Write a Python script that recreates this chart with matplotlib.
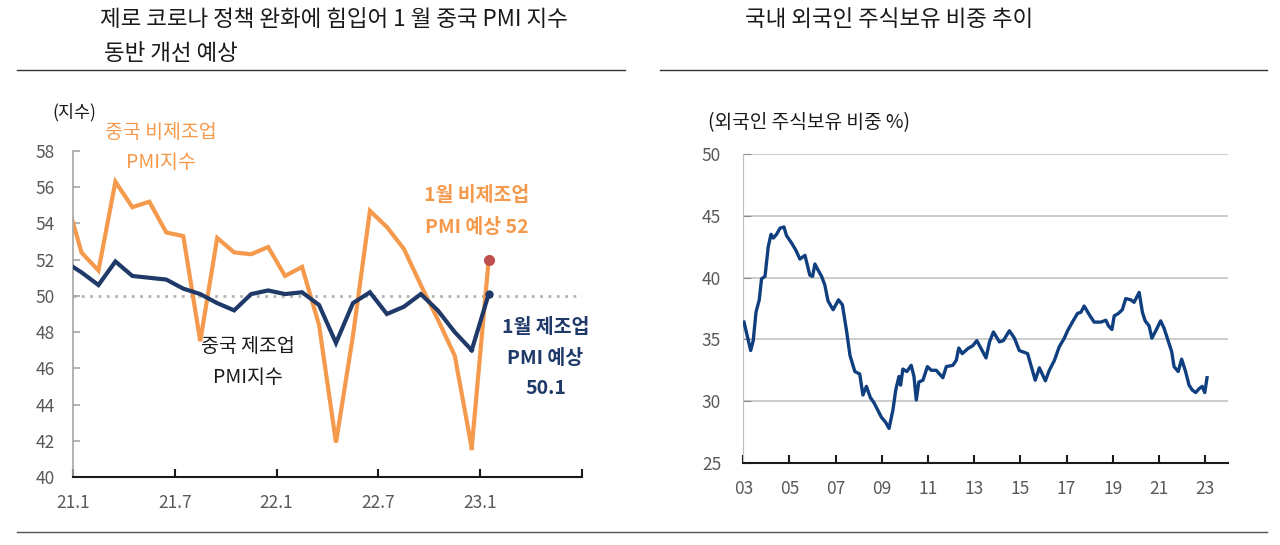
import numpy as np
import matplotlib
matplotlib.use('Agg')
import matplotlib.pyplot as plt
from matplotlib.lines import Line2D

plt.rcParams['font.family'] = ['Noto Sans CJK KR', 'DejaVu Sans']

# 중국 PMI (20.12 ~ 22.12), 마지막은 1월 예상치
mfg_pmi = [51.9, 51.3, 50.6, 51.9, 51.1, 51.0, 50.9, 50.4, 50.1, 49.6, 49.2, 50.1, 50.3,
           50.1, 50.2, 49.5, 47.4, 49.6, 50.2, 49.0, 49.4, 50.1, 49.2, 48.0, 47.0]
nonmfg_pmi = [55.7, 52.4, 51.4, 56.3, 54.9, 55.2, 53.5, 53.3, 47.5, 53.2, 52.4, 52.3, 52.7,
              51.1, 51.6, 48.4, 41.9, 47.8, 54.7, 53.8, 52.6, 50.6, 48.7, 46.7, 41.6]
mfg_fcst = 50.1
nonmfg_fcst = 52.0
pmi_ticks = [0, 6, 12, 18, 24, 30]
pmi_ticklabels = ['21.1', '21.7', '22.1', '22.7', '23.1', '']

# 외국인 주식보유 비중 (%)
own_year = [2003.03, 2003.32, 2003.43, 2003.55, 2003.69, 2003.79, 2003.94, 2004.08, 2004.20, 2004.30,
            2004.44, 2004.59, 2004.76, 2004.87, 2005.09, 2005.28, 2005.45, 2005.67, 2005.88, 2006.00,
            2006.10, 2006.24, 2006.39, 2006.53, 2006.67, 2006.89, 2007.12, 2007.29, 2007.47, 2007.62,
            2007.83, 2008.04, 2008.18, 2008.33, 2008.50, 2008.65, 2008.79, 2008.98, 2009.16, 2009.31,
            2009.48, 2009.60, 2009.74, 2009.81, 2009.91, 2010.08, 2010.27, 2010.39, 2010.49, 2010.60,
            2010.78, 2010.97, 2011.14, 2011.35, 2011.64, 2011.79, 2012.07, 2012.22, 2012.33, 2012.48,
            2012.72, 2012.94, 2013.11, 2013.30, 2013.51, 2013.66, 2013.83, 2014.09, 2014.26, 2014.52,
            2014.74, 2014.95, 2015.31, 2015.64, 2015.82, 2016.08, 2016.25, 2016.47, 2016.68, 2016.90,
            2017.04, 2017.25, 2017.47, 2017.62, 2017.76, 2017.98, 2018.19, 2018.48, 2018.70, 2018.81,
            2018.96, 2019.06, 2019.24, 2019.41, 2019.56, 2019.78, 2019.92, 2020.14, 2020.28, 2020.40,
            2020.57, 2020.69, 2020.86, 2021.07, 2021.22, 2021.36, 2021.55, 2021.65, 2021.83, 2021.98,
            2022.15, 2022.30, 2022.44, 2022.59, 2022.73, 2022.87, 2022.98, 2023.08]
own_pct = [36.4, 34.1, 34.9, 37.2, 38.2, 39.9, 40.1, 42.5, 43.5, 43.2,
           43.5, 44.0, 44.1, 43.4, 42.8, 42.2, 41.5, 41.8, 40.2, 40.1,
           41.1, 40.6, 40.1, 39.4, 38.1, 37.4, 38.2, 37.8, 35.7, 33.7,
           32.4, 32.2, 30.5, 31.2, 30.3, 29.9, 29.4, 28.7, 28.3, 27.8,
           29.3, 30.9, 32.0, 31.3, 32.6, 32.4, 32.9, 32.0, 30.1, 31.55,
           31.7, 32.8, 32.5, 32.5, 31.9, 32.8, 32.9, 33.3, 34.3, 33.85,
           34.25, 34.5, 34.9, 34.25, 33.5, 34.8, 35.6, 34.8, 34.9, 35.7,
           35.1, 34.1, 33.85, 31.7, 32.7, 31.65, 32.5, 33.3, 34.4, 35.1,
           35.7, 36.4, 37.1, 37.2, 37.7, 37.0, 36.4, 36.4, 36.55, 36.1,
           35.8, 36.9, 37.1, 37.4, 38.3, 38.2, 38.0, 38.8, 37.2, 36.5,
           36.1, 35.1, 35.7, 36.5, 35.9, 35.1, 34.0, 32.8, 32.4, 33.4,
           32.4, 31.3, 30.9, 30.7, 31.0, 31.2, 30.7, 31.9]
own_ticks = list(range(2003, 2024, 2))
own_ticklabels = ['03', '05', '07', '09', '11', '13', '15', '17', '19', '21', '23']

navy = '#1f3a68'
orange = '#f59a4c'
tick_col = '#595959'
ann_fs = 14

W, H = 1280, 545
fig = plt.figure(figsize=(W / 100, H / 100), dpi=100)


def fx(px):
    return px / W


def fy(py):
    return 1 - py / H


# ---- 왼쪽: 중국 PMI
ax1 = fig.add_axes([fx(73), fy(477), fx(582) - fx(73), fy(151) - fy(477)])
x = np.arange(len(mfg_pmi)) - 0.5
ax1.axhline(50, color='#b3b3b3', lw=2, ls=(0, (1, 2)), zorder=1)
ax1.plot(x, nonmfg_pmi, color=orange, lw=3, solid_joinstyle='miter', zorder=2)
ax1.plot([x[-1], x[-1] + 1], [nonmfg_pmi[-1], nonmfg_fcst], color=orange, lw=3, zorder=2)
ax1.plot(x, mfg_pmi, color=navy, lw=3, solid_joinstyle='miter', zorder=3)
ax1.plot([x[-1], x[-1] + 1], [mfg_pmi[-1], mfg_fcst], color=navy, lw=3, zorder=3)
ax1.plot(x[-1] + 1, nonmfg_fcst, 'o', color='#c0504d', ms=8, mec='none', zorder=4, clip_on=False)
ax1.plot(x[-1] + 1, mfg_fcst, 'o', color=navy, ms=6, mec='none', zorder=4, clip_on=False)

ax1.set_xlim(0, 30)
ax1.set_ylim(40, 58)
ax1.set_yticks(range(40, 59, 2))
ax1.set_xticks(pmi_ticks)
ax1.set_xticklabels(pmi_ticklabels)
for s in ['top', 'right']:
    ax1.spines[s].set_visible(False)
ax1.spines['left'].set_color('#a6a6a6')
ax1.spines['left'].set_linewidth(1.2)
ax1.spines['bottom'].set_color('#1a1a1a')
ax1.spines['bottom'].set_linewidth(1.5)
ax1.tick_params(axis='y', direction='in', length=5, color='#a6a6a6', width=1.2,
                labelsize=12.5, labelcolor=tick_col, pad=13)
ax1.tick_params(axis='x', direction='in', length=6, color='#1a1a1a', width=1.5,
                labelsize=12.5, labelcolor=tick_col, pad=12)

ax1.text(5.2, 59.0, '중국 비제조업', color=orange, fontsize=ann_fs, ha='center', va='center', clip_on=False)
ax1.text(5.2, 57.34, 'PMI지수', color=orange, fontsize=ann_fs, ha='center', va='center')
ax1.text(23.8, 55.57, '1월 비제조업', color=orange, fontsize=ann_fs, fontweight='bold', ha='center', va='center')
ax1.text(23.8, 53.8, 'PMI 예상 52', color=orange, fontsize=ann_fs, fontweight='bold', ha='center', va='center')
ax1.text(10.3, 47.18, '중국 제조업', color='#1a1a1a', fontsize=ann_fs, ha='center', va='center')
ax1.text(10.3, 45.47, 'PMI지수', color='#1a1a1a', fontsize=ann_fs, ha='center', va='center')
ax1.text(27.85, 48.28, '1월 제조업', color=navy, fontsize=ann_fs, fontweight='bold', ha='center', va='center')
ax1.text(27.85, 46.57, 'PMI 예상', color=navy, fontsize=ann_fs, fontweight='bold', ha='center', va='center')
ax1.text(27.85, 44.86, '50.1', color=navy, fontsize=ann_fs, fontweight='bold', ha='center', va='center')
fig.text(fx(52), fy(112), '(지수)', fontsize=12.5, color='#1a1a1a', ha='left', va='center')

# ---- 오른쪽: 외국인 주식보유 비중
ax2 = fig.add_axes([fx(743.3), fy(463), fx(1228.3) - fx(743.3), fy(154) - fy(463)])
ax2.plot(own_year, own_pct, color='#0f3f7f', lw=2.4, zorder=3)
ax2.set_xlim(2003, 2024)
ax2.set_ylim(25, 50)
ax2.set_yticks(range(25, 51, 5))
ax2.set_xticks(own_ticks)
ax2.set_xticklabels(own_ticklabels)
ax2.grid(axis='y', color='#c8c8c8', lw=1.3)
ax2.set_axisbelow(True)
for s in ['top', 'right']:
    ax2.spines[s].set_visible(False)
ax2.spines['left'].set_color('#bfbfbf')
ax2.spines['bottom'].set_color('#1a1a1a')
ax2.spines['bottom'].set_linewidth(1.5)
ax2.tick_params(axis='y', direction='in', length=6, color='#8c8c8c',
                labelsize=12.5, labelcolor=tick_col, pad=16)
ax2.tick_params(axis='x', direction='in', length=6, color='#1a1a1a', width=1.5,
                labelsize=12.5, labelcolor=tick_col, pad=12)
fig.text(fx(708), fy(123), '(외국인 주식보유 비중 %)', fontsize=13.8, color='#1a1a1a', ha='left', va='center')

# ---- 제목과 구분선
fig.text(fx(100), fy(20), '제로 코로나 정책 완화에 힘입어 1 월 중국 PMI 지수', fontsize=16.2, color='#1a1a1a',
         ha='left', va='center')
fig.text(fx(104), fy(53), '동반 개선 예상', fontsize=16.2, color='#1a1a1a', ha='left', va='center')
fig.text(fx(745), fy(20), '국내 외국인 주식보유 비중 추이', fontsize=16.2, color='#1a1a1a', ha='left', va='center')

fig.add_artist(Line2D([fx(17), fx(625)], [fy(70), fy(70)], color='#333333', lw=1))
fig.add_artist(Line2D([fx(660), fx(1267)], [fy(70), fy(70)], color='#333333', lw=1))
fig.add_artist(Line2D([fx(17), fx(1267)], [fy(532), fy(532)], color='#555555', lw=1))

fig.savefig('out.png', dpi=100)
